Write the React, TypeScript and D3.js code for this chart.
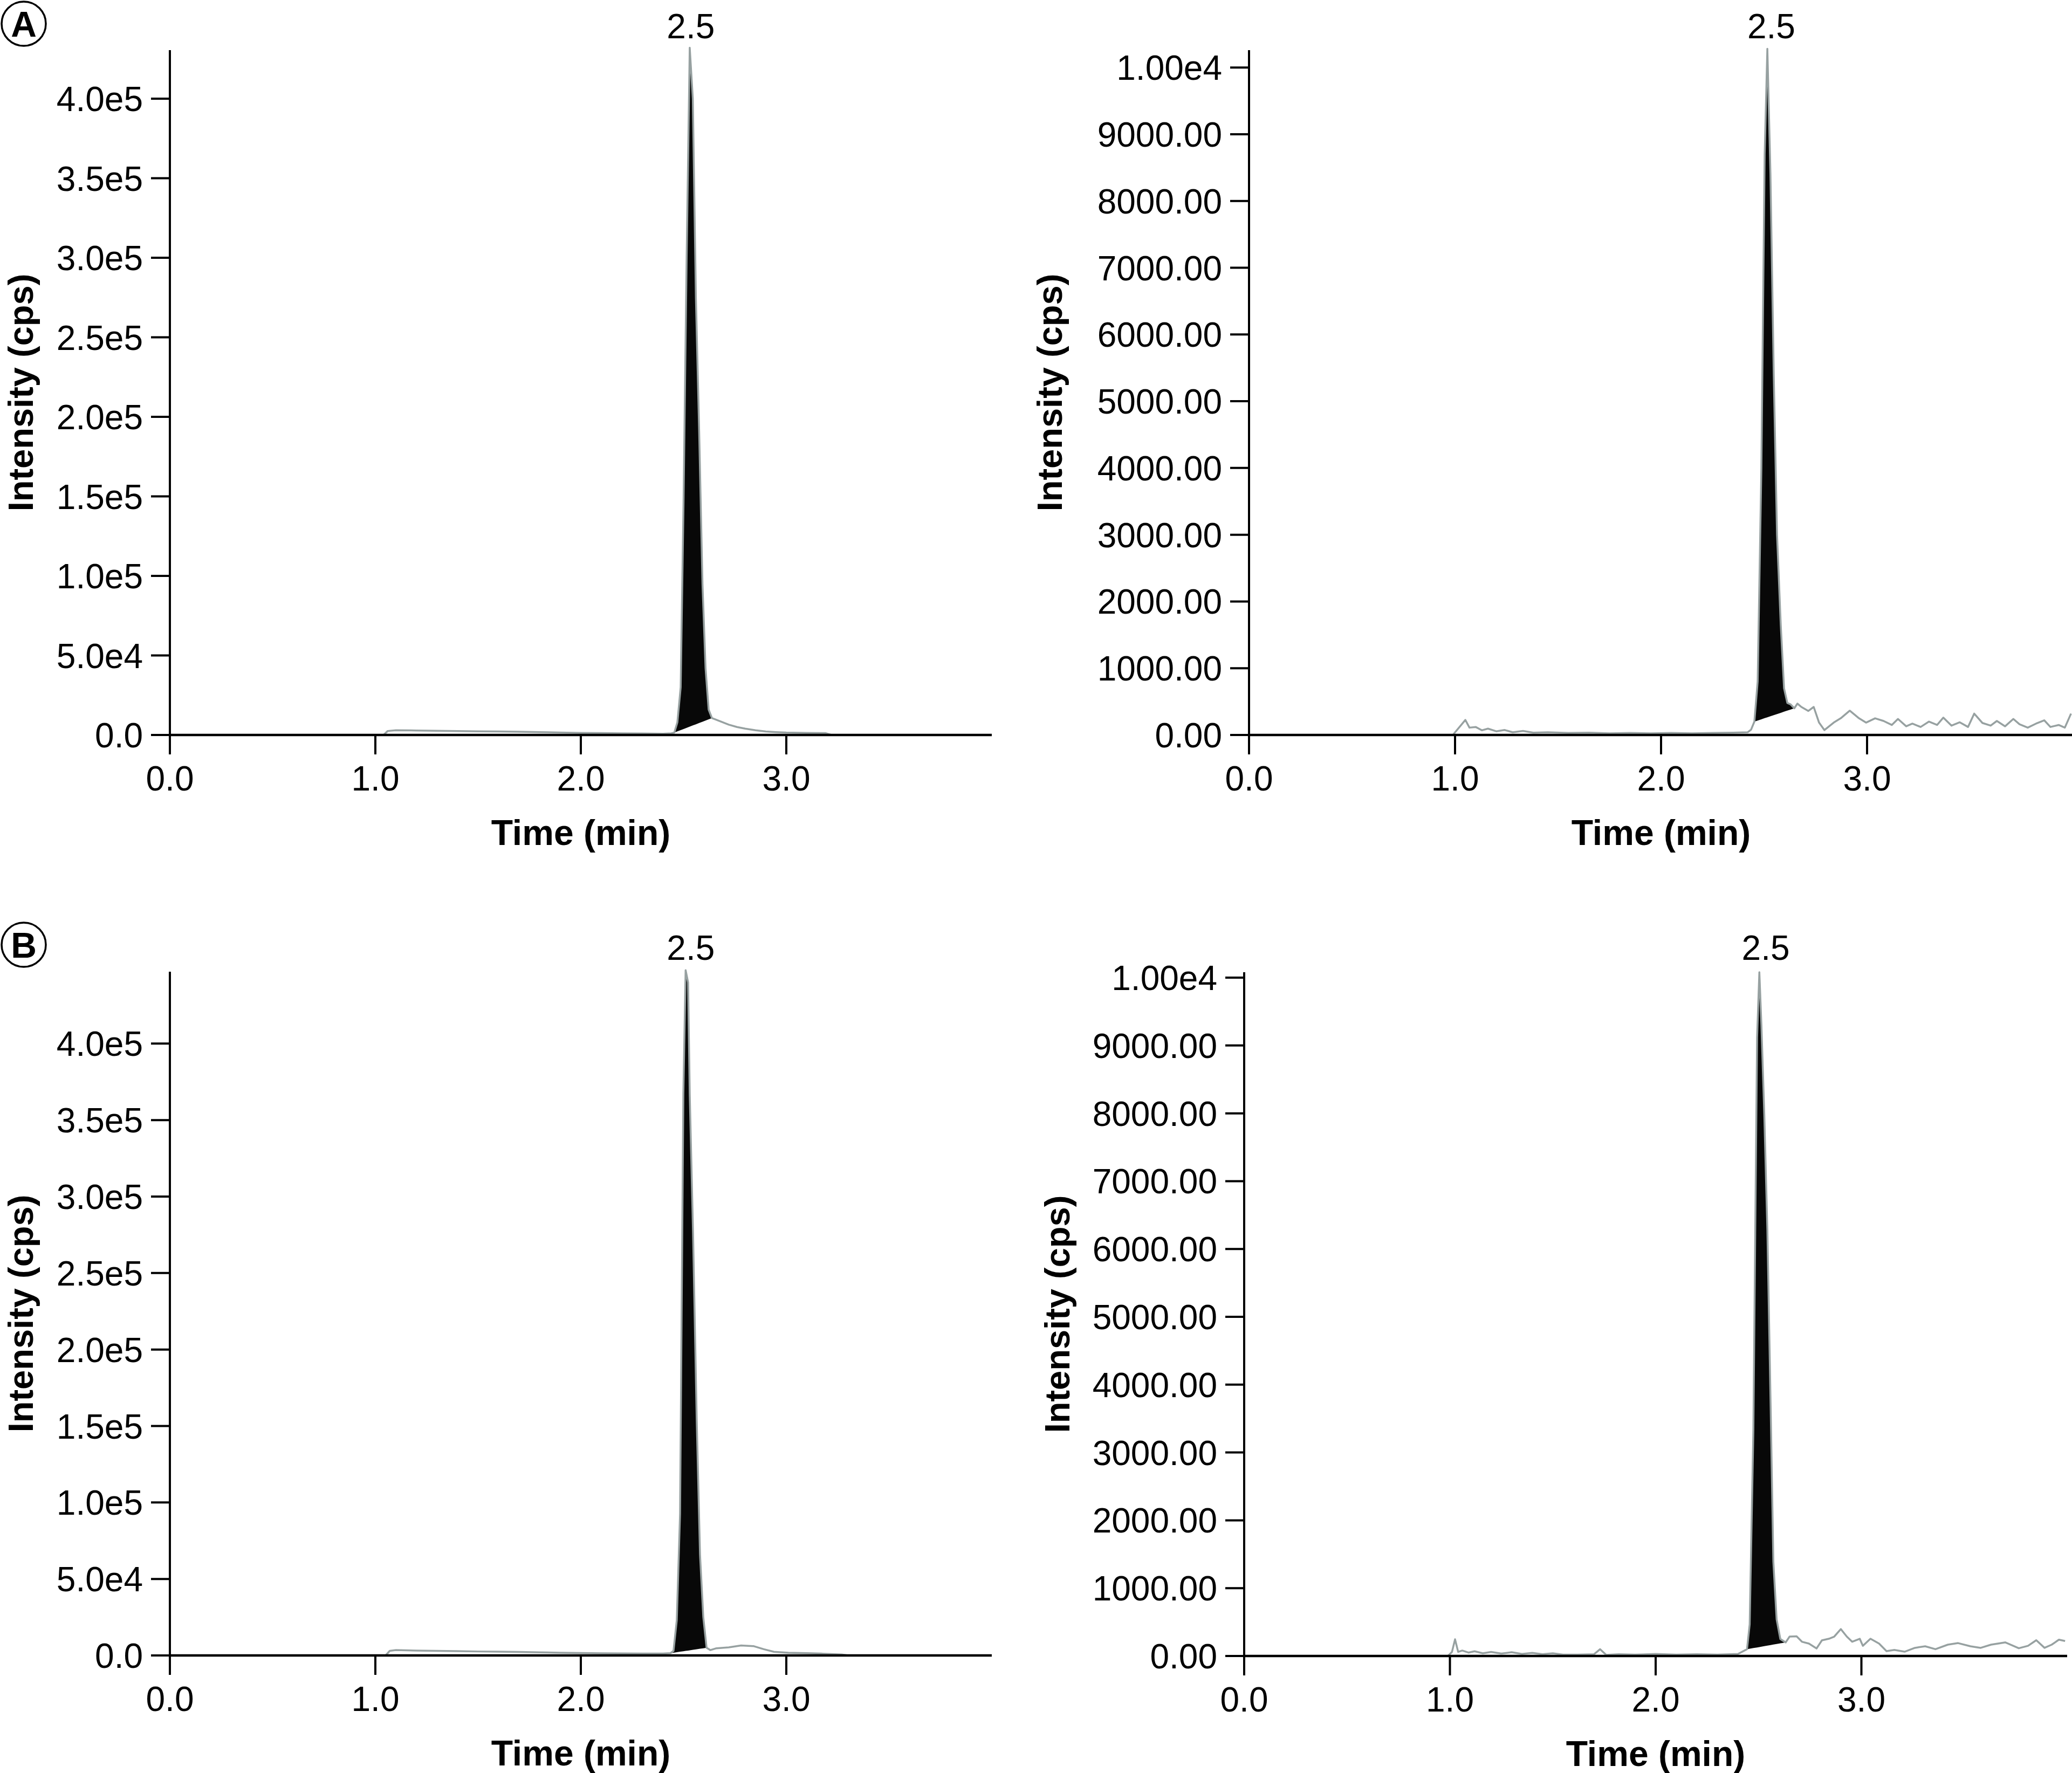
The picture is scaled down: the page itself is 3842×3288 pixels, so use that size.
import React from "react";
import * as d3 from "d3";

// ---------- DATA ----------
const X_TICKS = [0, 1, 2, 3];
const X_TICK_LABELS = ["0.0", "1.0", "2.0", "3.0"];

const LEFT_Y_TICKS = [0, 50000, 100000, 150000, 200000, 250000, 300000, 350000, 400000];
const LEFT_Y_LABELS = ["0.0", "5.0e4", "1.0e5", "1.5e5", "2.0e5", "2.5e5", "3.0e5", "3.5e5", "4.0e5"];
const RIGHT_Y_TICKS = [0, 1000, 2000, 3000, 4000, 5000, 6000, 7000, 8000, 9000, 10000];
const RIGHT_Y_LABELS = ["0.00", "1000.00", "2000.00", "3000.00", "4000.00", "5000.00", "6000.00", "7000.00", "8000.00", "9000.00", "1.00e4"];

const PEAK_LABEL = "2.5";
const PEAK_LABEL_TIME = 2.535;

// Panel A, left (analyte)
const A1_TIME = [0, 1.04, 1.06, 1.1, 1.2, 1.3, 1.4, 1.5, 1.6, 1.7, 1.8, 1.9, 2.0, 2.1, 2.2, 2.3, 2.4, 2.44, 2.455, 2.47, 2.486, 2.5, 2.515, 2.53, 2.545, 2.56, 2.576, 2.592, 2.607, 2.622, 2.638, 2.68, 2.72, 2.76, 2.8, 2.85, 2.9, 2.95, 3.0, 3.1, 3.19, 3.22, 3.6, 4.0];
const A1_INT = [0, 0, 2500, 3000, 2800, 2600, 2500, 2300, 2200, 2000, 1800, 1500, 1300, 1200, 1000, 900, 800, 1000, 1500, 8000, 30000, 147000, 300000, 432000, 400000, 275000, 190000, 95000, 42000, 16000, 10600, 8500, 6500, 5000, 4000, 3000, 2200, 1800, 1500, 1300, 1200, 0, 0, 0];
const A1_FILL = [2.455, 2.638];
const A1_YMAX = 430500;

// Panel A, right (internal standard)
const A2_TIME = [0, 0.99, 1.0, 1.03, 1.05, 1.07, 1.1, 1.13, 1.16, 1.2, 1.24, 1.28, 1.33, 1.38, 1.45, 1.55, 1.65, 1.75, 1.85, 1.95, 2.05, 2.15, 2.25, 2.35, 2.42, 2.437, 2.453, 2.469, 2.487, 2.503, 2.516, 2.531, 2.547, 2.563, 2.581, 2.597, 2.613, 2.628, 2.647, 2.662, 2.681, 2.715, 2.741, 2.767, 2.793, 2.838, 2.872, 2.916, 2.961, 2.995, 3.039, 3.08, 3.12, 3.15, 3.19, 3.22, 3.26, 3.3, 3.34, 3.37, 3.41, 3.45, 3.49, 3.52, 3.56, 3.6, 3.63, 3.67, 3.71, 3.74, 3.78, 3.82, 3.86, 3.89, 3.93, 3.96, 3.99];
const A2_INT = [0, 0, 40, 150, 226, 110, 120, 70, 95, 55, 75, 40, 60, 35, 40, 30, 35, 25, 30, 25, 30, 25, 30, 35, 40, 80, 200, 800, 4000, 8700, 10280, 8400, 5400, 3000, 1650, 700, 480, 460, 400, 470, 420, 360, 420, 185, 73, 185, 250, 364, 250, 185, 250, 210, 150, 240, 130, 170, 120, 200, 150, 260, 140, 190, 120, 320, 180, 140, 210, 130, 240, 160, 110, 170, 220, 120, 150, 110, 320];
const A2_FILL = [2.453, 2.647];
const A2_YMAX = 10260;

// Panel B, left (analyte)
const B1_TIME = [0, 1.05, 1.07, 1.1, 1.2, 1.3, 1.4, 1.5, 1.6, 1.7, 1.8, 1.9, 2.0, 2.1, 2.2, 2.3, 2.4, 2.436, 2.451, 2.467, 2.483, 2.499, 2.51, 2.522, 2.53, 2.546, 2.564, 2.58, 2.596, 2.612, 2.63, 2.66, 2.72, 2.78, 2.84, 2.89, 2.94, 3.01, 3.1, 3.17, 3.27, 3.3, 4.0];
const B1_INT = [0, 0, 3000, 3500, 3200, 3000, 2800, 2600, 2500, 2300, 2000, 1800, 1600, 1400, 1300, 1200, 1200, 1500, 3000, 23000, 93000, 367000, 448000, 440000, 367000, 277000, 154000, 66000, 25000, 5000, 3500, 4700, 5300, 6500, 6100, 4100, 2400, 1800, 1500, 1200, 600, 0, 0];
const B1_FILL = [2.436, 2.612];
const B1_YMAX = 447000;

// Panel B, right (internal standard)
const B2_TIME = [0, 0.99, 1.01, 1.025, 1.04, 1.06, 1.09, 1.12, 1.16, 1.2, 1.25, 1.3, 1.35, 1.4, 1.45, 1.5, 1.55, 1.62, 1.7, 1.73, 1.76, 1.82, 1.9, 2.0, 2.1, 2.2, 2.3, 2.4, 2.444, 2.457, 2.475, 2.493, 2.504, 2.514, 2.528, 2.543, 2.559, 2.572, 2.588, 2.606, 2.632, 2.651, 2.685, 2.711, 2.745, 2.782, 2.808, 2.842, 2.868, 2.9, 2.929, 2.955, 2.992, 3.007, 3.044, 3.086, 3.122, 3.16, 3.21, 3.26, 3.31, 3.36, 3.42, 3.47, 3.53, 3.58, 3.63, 3.7, 3.765, 3.81, 3.85, 3.89, 3.925, 3.96, 3.99];
const B2_INT = [0, 0, 60, 246, 60, 80, 50, 70, 40, 60, 35, 55, 30, 45, 25, 40, 20, 20, 25, 100, 15, 25, 20, 30, 20, 25, 20, 30, 100, 465, 3336, 9118, 10080, 9300, 7980, 6280, 3650, 1390, 540, 250, 200, 286, 290, 210, 183, 111, 230, 254, 286, 397, 286, 210, 254, 150, 254, 183, 71, 90, 63, 120, 143, 100, 167, 190, 143, 120, 167, 200, 114, 150, 233, 120, 167, 240, 220];
const B2_FILL = [2.444, 2.632];
const B2_YMAX = 10080;

const X_MAX = 4.0;

// ---------- LAYOUT ----------
const W = 3842;
const H = 3288;
const FONT = '"Liberation Sans", Arial, Helvetica, sans-serif';
const TRACE = "#97a1a1";

type PanelCfg = {
  key: string;
  time: number[];
  val: number[];
  fill: number[];
  yMax: number;
  yTicks: number[];
  yLabels: string[];
  x0: number;
  x1: number;
  yBase: number;
  yTop: number;
  titleX: number;
  labelBase: number;
};

const PANELS: PanelCfg[] = [
  { key: "A1", time: A1_TIME, val: A1_INT, fill: A1_FILL, yMax: A1_YMAX, yTicks: LEFT_Y_TICKS, yLabels: LEFT_Y_LABELS, x0: 315, x1: 1839, yBase: 1363, yTop: 93, titleX: 61, labelBase: 71 },
  { key: "A2", time: A2_TIME, val: A2_INT, fill: A2_FILL, yMax: A2_YMAX, yTicks: RIGHT_Y_TICKS, yLabels: RIGHT_Y_LABELS, x0: 2316, x1: 3844, yBase: 1363, yTop: 93, titleX: 1969, labelBase: 71 },
  { key: "B1", time: B1_TIME, val: B1_INT, fill: B1_FILL, yMax: B1_YMAX, yTicks: LEFT_Y_TICKS, yLabels: LEFT_Y_LABELS, x0: 315, x1: 1839, yBase: 3070, yTop: 1802, titleX: 61, labelBase: 1780 },
  { key: "B2", time: B2_TIME, val: B2_INT, fill: B2_FILL, yMax: B2_YMAX, yTicks: RIGHT_Y_TICKS, yLabels: RIGHT_Y_LABELS, x0: 2307, x1: 3833, yBase: 3071, yTop: 1803, titleX: 1983, labelBase: 1780 },
];

function Panel({ p }: { p: PanelCfg }) {
  const x = d3.scaleLinear().domain([0, X_MAX]).range([p.x0, p.x1]);
  const y = d3.scaleLinear().domain([0, p.yMax]).range([p.yBase, p.yTop]);
  const pts: [number, number][] = p.time.map((t, i) => [t, p.val[i]]);

  const line = d3.line<[number, number]>().x((d) => x(d[0])).y((d) => y(d[1]));

  const [s, e] = p.fill;
  const vs = p.val[p.time.indexOf(s)];
  const ve = p.val[p.time.indexOf(e)];
  const base = (t: number) => vs + ((ve - vs) * (t - s)) / (e - s);
  const fillPts = pts.filter((d) => d[0] >= s && d[0] <= e);
  const area = d3
    .area<[number, number]>()
    .x((d) => x(d[0]))
    .y0((d) => y(base(d[0])))
    .y1((d) => y(d[1]));

  const tickLen = 35;
  const midY = (p.yBase + p.yTop) / 2;
  const midX = (p.x0 + p.x1) / 2;

  return (
    <g>
      {/* peak fill and trace */}
      <path d={area(fillPts) || ""} fill="#080808" stroke="none" />
      <path d={line(pts) || ""} fill="none" stroke={TRACE} strokeWidth={3.5} strokeLinejoin="round" />

      {/* y axis */}
      <line x1={p.x0} x2={p.x0} y1={p.yTop} y2={p.yBase} stroke="#000" strokeWidth={4} />
      {p.yTicks.map((v, i) => (
        <g key={"y" + i}>
          <line x1={p.x0 - tickLen} x2={p.x0} y1={y(v)} y2={y(v)} stroke="#000" strokeWidth={4} />
          <text
            x={p.x0 - 50}
            y={y(v)}
            dy="0.36em"
            textAnchor="end"
            fontFamily={FONT}
            fontSize={64}
            fill="#000"
          >
            {p.yLabels[i]}
          </text>
        </g>
      ))}

      {/* x axis */}
      <line x1={p.x0} x2={p.x1} y1={p.yBase} y2={p.yBase} stroke="#000" strokeWidth={4.5} />
      {X_TICKS.map((v, i) => (
        <g key={"x" + i}>
          <line x1={x(v)} x2={x(v)} y1={p.yBase} y2={p.yBase + 36} stroke="#000" strokeWidth={4} />
          <text
            x={x(v)}
            y={p.yBase + 103}
            textAnchor="middle"
            fontFamily={FONT}
            fontSize={64}
            fill="#000"
          >
            {X_TICK_LABELS[i]}
          </text>
        </g>
      ))}

      {/* titles */}
      <text
        x={midX}
        y={p.yBase + 204}
        textAnchor="middle"
        fontFamily={FONT}
        fontWeight="bold"
        fontSize={66}
        fill="#000"
      >
        Time (min)
      </text>
      <text
        transform={`translate(${p.titleX},${midY}) rotate(-90)`}
        textAnchor="middle"
        fontFamily={FONT}
        fontWeight="bold"
        fontSize={65}
        fill="#000"
      >
        Intensity (cps)
      </text>

      {/* peak label */}
      <text
        x={x(PEAK_LABEL_TIME)}
        y={p.labelBase}
        textAnchor="middle"
        fontFamily={FONT}
        fontSize={64}
        fill="#000"
      >
        {PEAK_LABEL}
      </text>
    </g>
  );
}

function Badge({ cx, cy, letter }: { cx: number; cy: number; letter: string }) {
  return (
    <g>
      <circle cx={cx} cy={cy} r={41} fill="#fff" stroke="#000" strokeWidth={3.5} />
      <text
        x={cx}
        y={cy}
        dy="0.36em"
        textAnchor="middle"
        fontFamily={FONT}
        fontWeight="bold"
        fontSize={66}
        fill="#000"
      >
        {letter}
      </text>
    </g>
  );
}

export default function App() {
  return (
    <svg
      width={W}
      height={H}
      viewBox={`0 0 ${W} ${H}`}
      style={{ position: "absolute", left: 0, top: 0, display: "block", background: "#fff" }}
    >
      <rect x={0} y={0} width={W} height={H} fill="#fff" />
      {PANELS.map((p) => (
        <Panel key={p.key} p={p} />
      ))}
      <Badge cx={44} cy={44} letter="A" />
      <Badge cx={44} cy={1752} letter="B" />
    </svg>
  );
}
